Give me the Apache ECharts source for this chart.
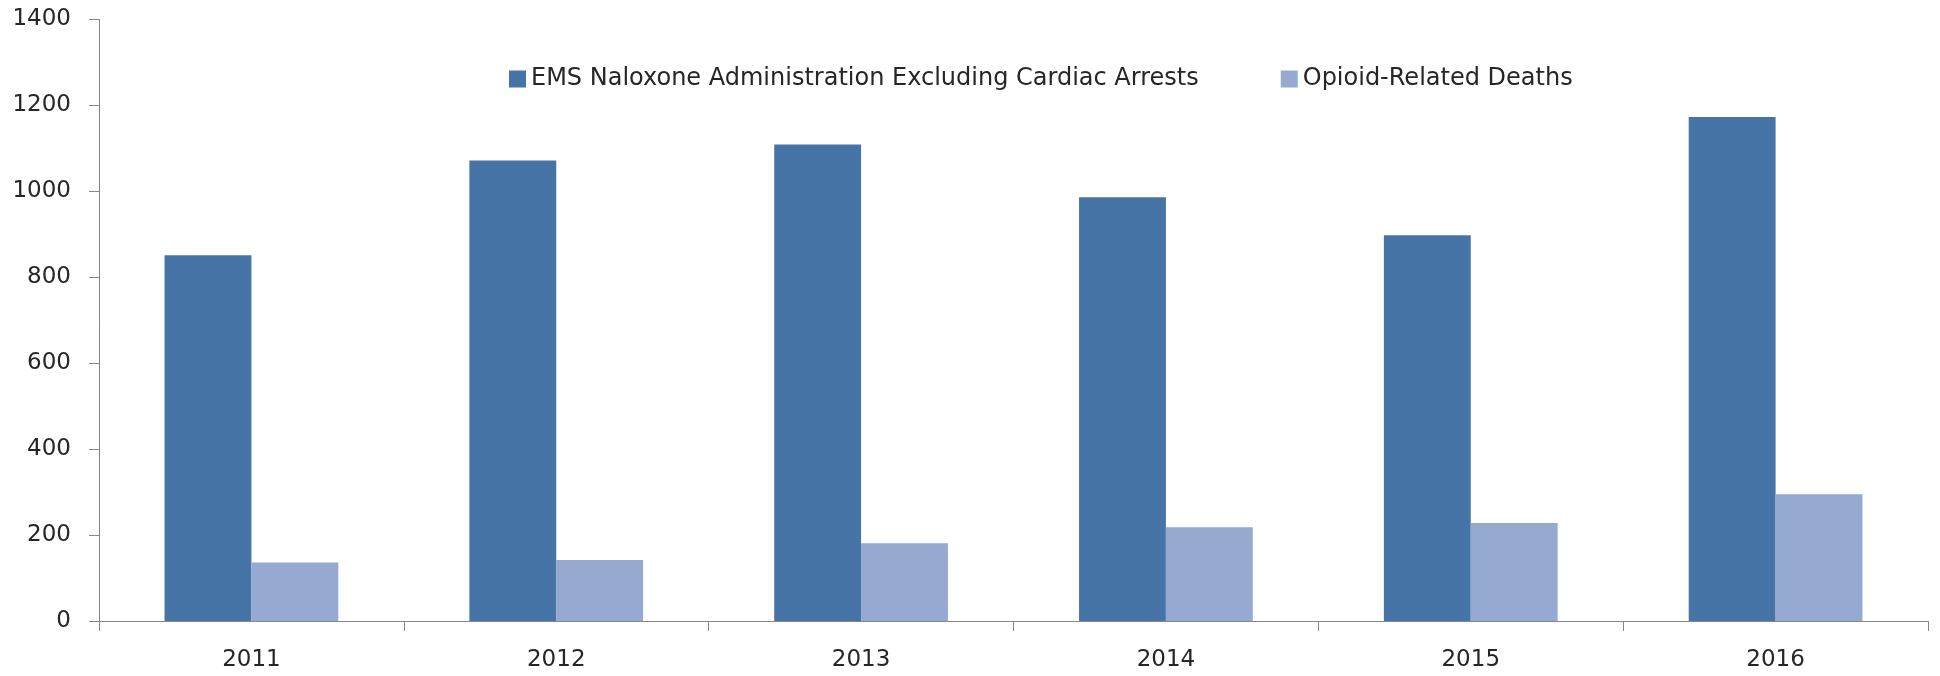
<!DOCTYPE html>
<html>
<head>
<meta charset="utf-8">
<title>EMS Naloxone vs Opioid-Related Deaths</title>
<script src="https://cdn.jsdelivr.net/npm/echarts@6/dist/echarts.min.js"></script>
<style>
  html, body { margin: 0; padding: 0; background: #fff; }
  #chart { width: 1940px; height: 676px; }
</style>
</head>
<body>
<div id="chart"></div>
<script>
const years = ['2011', '2012', '2013', '2014', '2015', '2016']
const naloxone = [851, 1072, 1109, 986, 898, 1173]
const deaths = [136, 142, 181, 218, 228, 295]
const seriesNames = ['EMS Naloxone Administration Excluding Cardiac Arrests', 'Opioid-Related Deaths']

const axisGray = '#868686'
const txt = '#262626'

const chart = echarts.init(document.getElementById('chart'))
chart.setOption({
  animation: false,
  textStyle: { fontFamily: 'DejaVu Sans' },
  color: ['#4674a7', '#96a9d0'],
  legend: {
    left: 504,
    top: 62,
    itemWidth: 17,
    itemHeight: 17,
    itemGap: 82,
    icon: 'rect',
    textStyle: { fontSize: 24, color: txt, fontFamily: 'DejaVu Sans' },
    data: seriesNames
  },
  grid: { left: 99, right: 12, top: 19.5, bottom: 55, containLabel: false },
  xAxis: {
    type: 'category',
    data: years,
    boundaryGap: true,
    axisLine: { lineStyle: { color: axisGray, width: 1 } },
    axisTick: { show: true, length: 10, lineStyle: { color: axisGray } },
    axisLabel: { fontSize: 23, color: txt, margin: 28 }
  },
  yAxis: {
    type: 'value',
    min: 0,
    max: 1400,
    interval: 200,
    axisLine: { show: true, lineStyle: { color: axisGray, width: 1 } },
    axisTick: { show: true, length: 10, lineStyle: { color: axisGray } },
    splitLine: { show: false },
    axisLabel: { fontSize: 23, color: txt, margin: 28, formatter: v => String(v) }
  },
  series: [
    {
      name: seriesNames[0],
      type: 'bar',
      data: naloxone,
      barGap: '0%',
      barCategoryGap: '43%'
    },
    {
      name: seriesNames[1],
      type: 'bar',
      data: deaths,
      barGap: '0%',
      barCategoryGap: '43%'
    }
  ]
})
</script>
</body>
</html>
